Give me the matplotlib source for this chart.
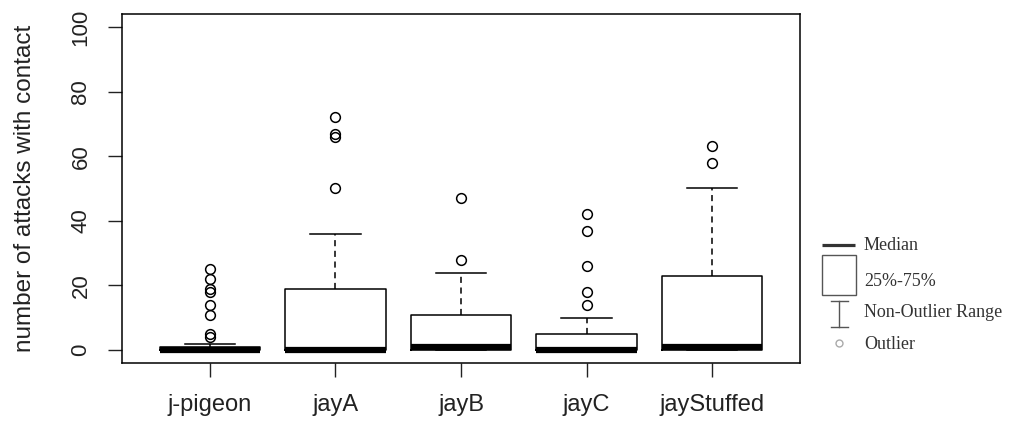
import matplotlib
matplotlib.use("Agg")
import matplotlib.pyplot as plt
from matplotlib.patches import Rectangle

# values
groups = ["j-pigeon", "jayA", "jayB", "jayC", "jayStuffed"]
q1 = [0, 0, 0, 0, 0]
med = [0, 0, 1, 0, 1]
q3 = [1, 19, 11, 5, 23]
whis_lo = [0, 0, 0, 0, 0]
whis_hi = [2, 36, 24, 10, 50]
outliers = [
    [25, 22, 19, 18, 14, 11, 5, 4],
    [72, 67, 66, 50],
    [28, 47],
    [14, 18, 26, 37, 42],
    [58, 63],
]
yticks = [0, 20, 40, 60, 80, 100]

plt.rcParams["font.family"] = ["Liberation Sans", "DejaVu Sans"]
txt = "#222222"

stats = []
for i in range(len(groups)):
    stats.append({"label": groups[i], "q1": q1[i], "med": med[i], "q3": q3[i],
                  "whislo": whis_lo[i], "whishi": whis_hi[i], "fliers": outliers[i]})

fig = plt.figure(figsize=(10.15, 4.23), dpi=100)
ax = fig.add_axes([122 / 1015, 1 - 363 / 423, 678 / 1015, 349 / 423])

ax.bxp(stats, positions=range(1, 6), widths=0.8, capwidths=0.4,
       boxprops=dict(color="black", linewidth=1.1),
       medianprops=dict(color="black", linewidth=4.5, solid_capstyle="butt"),
       whiskerprops=dict(color="black", linewidth=1.1, linestyle=(0, (4, 3))),
       capprops=dict(color="black", linewidth=1.1),
       flierprops=dict(marker="o", markersize=7, markerfacecolor="none",
                       markeredgecolor="black", markeredgewidth=1.1))

ax.set_xlim(0.3, 5.7)
ax.set_ylim(-4, 104)
ax.set_yticks(yticks)
ax.set_yticklabels([str(v) for v in yticks], rotation=90, va="center")
ax.tick_params(axis="both", length=10, width=1.0, labelsize=16, colors=txt)
ax.tick_params(axis="x", pad=12, labelsize=17)
ax.tick_params(axis="y", pad=12)
for s in ax.spines.values():
    s.set_linewidth(1.1)
ax.set_ylabel("number of attacks with contact", fontsize=17.5, color=txt)
ax.yaxis.set_label_coords(-0.127, 0.5)

# key on the right, drawn in pixel coordinates
lax = fig.add_axes([815 / 1015, 1 - 360 / 423, 200 / 1015, 130 / 423])
lax.set_xlim(815, 1015)
lax.set_ylim(360, 230)
lax.axis("off")
g = "#555555"
lax.plot([822, 855], [245, 245], color="#333333", lw=2.3, solid_capstyle="butt")
lax.add_patch(Rectangle((822, 255), 34, 40, fill=False, edgecolor=g, lw=1.0))
lax.plot([839, 839], [301, 327], color=g, lw=1.0)
lax.plot([831, 848], [301, 301], color=g, lw=1.0)
lax.plot([831, 848], [327, 327], color=g, lw=1.0)
lax.plot([839], [343], marker="o", markersize=5, markerfacecolor="none",
         markeredgecolor="#aaaaaa", markeredgewidth=1.0)
serif = ["Liberation Serif", "DejaVu Serif"]
for label, y in [("Median", 245), ("25%-75%", 281), ("Non-Outlier Range", 312), ("Outlier", 344)]:
    lax.text(864, y, label, family=serif, fontsize=13, color="#333333", va="center", ha="left")

fig.savefig("out.png", dpi=100)
